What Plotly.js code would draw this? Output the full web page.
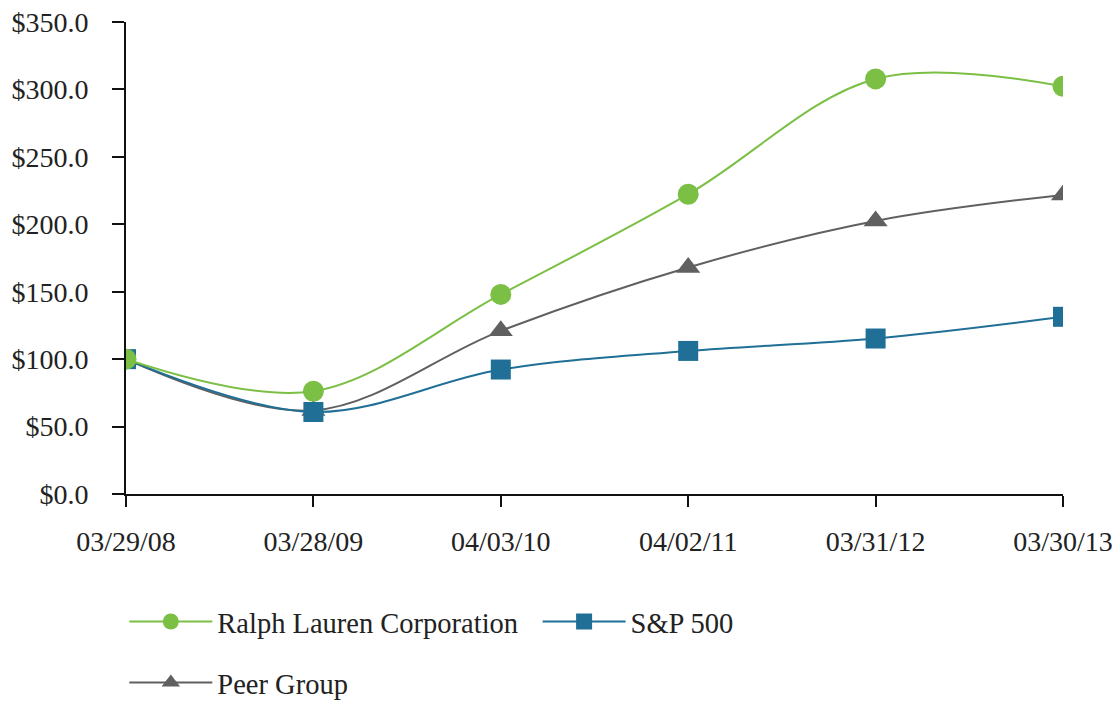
<!DOCTYPE html>
<html>
<head>
<meta charset="utf-8">
<script src="https://cdn.plot.ly/plotly-3.0.1.min.js"></script>
<style>html,body{margin:0;padding:0;background:#fff;}#chart{width:1120px;height:702px;}</style>
</head>
<body>
<div id="chart"></div>
<script>
const dates = ["03/29/08", "03/28/09", "04/03/10", "04/02/11", "03/31/12", "03/30/13"];
const ralphLauren = [100.0, 76.2, 148.0, 222.3, 307.8, 302.3];
const sp500 = [100.0, 60.8, 92.3, 106.1, 115.3, 131.4];
const peerGroup = [100.0, 62.0, 121.0, 168.0, 202.5, 221.8];
const yTicks = [0, 50, 100, 150, 200, 250, 300, 350];
const yTickLabels = yTicks.map(v => "$" + v.toFixed(1));

const green = "#7bbf45", blue = "#1f6f96", gray = "#606060";
const font = "Liberation Serif, Times New Roman, serif";

const traces = [
  {x: dates, y: peerGroup, name: "Peer Group", type: "scatter", mode: "lines+markers",
   line: {color: gray, width: 2, shape: "spline"},
   marker: {symbol: "triangle-up", size: 21, color: gray}, legend: "legend2"},
  {x: dates, y: sp500, name: "S&P 500", type: "scatter", mode: "lines+markers",
   line: {color: blue, width: 2, shape: "spline"},
   marker: {symbol: "square", size: 20, color: blue}, legend: "legend3"},
  {x: dates, y: ralphLauren, name: "Ralph Lauren Corporation", type: "scatter", mode: "lines+markers",
   line: {color: green, width: 2, shape: "spline"},
   marker: {symbol: "circle", size: 21, color: green}, legend: "legend"}
];

const legendFont = {family: font, size: 28.5, color: "#222"};
function legendAt(x, y) {
  return {orientation: "h", xref: "container", yref: "container",
          x: x, xanchor: "left", y: y, yanchor: "middle",
          font: legendFont, itemwidth: 83, bgcolor: "rgba(0,0,0,0)"};
}
const tickFont = {family: font, size: 28, color: "#222"};
const layout = {
  width: 1120, height: 702,
  margin: {l: 126, r: 57, t: 22, b: 208, autoexpand: false},
  paper_bgcolor: "#fff", plot_bgcolor: "#fff",
  font: {family: font, size: 28, color: "#222"},
  showlegend: true,
  xaxis: {type: "category", range: [0, 5], showgrid: false, zeroline: false,
          showline: true, linecolor: "#111", linewidth: 2,
          ticks: "outside", ticklen: 11, tickwidth: 2, tickcolor: "#111",
          ticklabelstandoff: 10, tickfont: tickFont, fixedrange: true},
  yaxis: {range: [0, 350], tickvals: yTicks, ticktext: yTickLabels,
          showgrid: false, zeroline: false, showline: true, linecolor: "#111", linewidth: 2,
          ticks: "outside", ticklen: 12, tickwidth: 2, tickcolor: "#111",
          ticklabelstandoff: 18, tickfont: tickFont, fixedrange: true},
  legend: legendAt(0.111, 0.114),
  legend3: legendAt(0.48, 0.114),
  legend2: legendAt(0.111, 0.027)
};

Plotly.newPlot("chart", traces, layout, {displayModeBar: false, staticPlot: true});
</script>
</body>
</html>
